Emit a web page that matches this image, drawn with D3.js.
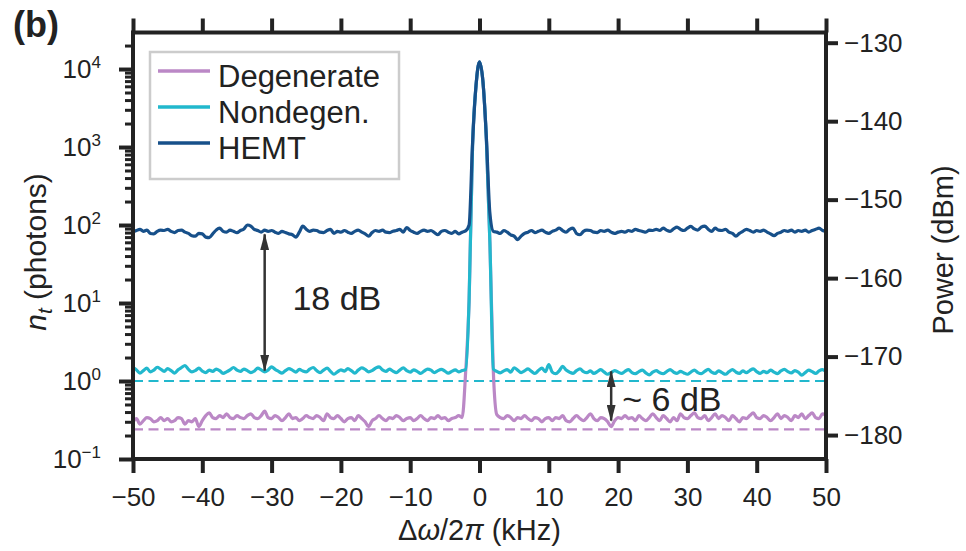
<!DOCTYPE html>
<html lang="en">
<head>
<meta charset="utf-8">
<script src="https://cdn.jsdelivr.net/npm/d3@7"></script>
<style>
    body { margin: 0; background: #fff; }
    svg text { font-family: "Liberation Sans", Arial, sans-serif; fill: #222; }
</style>
</head>
<body>
<script>
    // frequency grid (kHz), 0.5 kHz bins from -50 to 50
    let freqStart = -50;
    let freqStep = 0.5;

    // photon number n_t per bin
    let degenerate = [
        0.30, 0.33, 0.28, 0.31, 0.34, 0.33, 0.30, 0.31, 0.34, 0.31,
        0.33, 0.30, 0.31, 0.34, 0.33, 0.28, 0.31, 0.30, 0.33, 0.26,
        0.31, 0.36, 0.39, 0.34, 0.33, 0.36, 0.34, 0.38, 0.34, 0.33,
        0.36, 0.34, 0.33, 0.36, 0.38, 0.34, 0.33, 0.36, 0.41, 0.34,
        0.33, 0.36, 0.34, 0.31, 0.34, 0.38, 0.33, 0.34, 0.31, 0.33,
        0.36, 0.34, 0.33, 0.36, 0.34, 0.31, 0.38, 0.34, 0.33, 0.36,
        0.33, 0.30, 0.33, 0.34, 0.31, 0.36, 0.33, 0.30, 0.26, 0.31,
        0.33, 0.36, 0.33, 0.31, 0.34, 0.33, 0.36, 0.34, 0.31, 0.33,
        0.34, 0.31, 0.33, 0.36, 0.33, 0.31, 0.34, 0.33, 0.36, 0.33,
        0.34, 0.31, 0.33, 0.34, 0.36, 0.34, 1.3, 10.5, 1050, 6100,
        12300, 6800, 1200, 60, 1.3, 0.37, 0.34, 0.33, 0.36, 0.34,
        0.31, 0.34, 0.33, 0.36, 0.33, 0.31, 0.34, 0.33, 0.30, 0.33,
        0.34, 0.31, 0.34, 0.33, 0.36, 0.31, 0.30, 0.33, 0.36, 0.33,
        0.31, 0.34, 0.38, 0.33, 0.31, 0.34, 0.33, 0.30, 0.26, 0.31,
        0.34, 0.33, 0.36, 0.33, 0.34, 0.31, 0.36, 0.33, 0.31, 0.34,
        0.38, 0.34, 0.31, 0.36, 0.33, 0.30, 0.34, 0.31, 0.38, 0.34,
        0.33, 0.36, 0.39, 0.34, 0.33, 0.36, 0.31, 0.34, 0.38, 0.33,
        0.36, 0.34, 0.31, 0.36, 0.33, 0.30, 0.34, 0.33, 0.36, 0.39,
        0.34, 0.33, 0.36, 0.34, 0.31, 0.34, 0.38, 0.33, 0.36, 0.34,
        0.31, 0.36, 0.34, 0.38, 0.33, 0.36, 0.39, 0.34, 0.33, 0.38,
        0.36
    ];

    let nondegen = [
        1.50, 1.39, 1.26, 1.36, 1.46, 1.31, 1.38, 1.50, 1.42, 1.33,
        1.44, 1.36, 1.26, 1.39, 1.49, 1.58, 1.41, 1.31, 1.36, 1.46,
        1.34, 1.28, 1.38, 1.33, 1.42, 1.36, 1.25, 1.31, 1.39, 1.49,
        1.38, 1.33, 1.42, 1.36, 1.28, 1.34, 1.46, 1.39, 1.31, 1.38,
        1.52, 1.41, 1.33, 1.26, 1.36, 1.44, 1.38, 1.30, 1.41, 1.34,
        1.31, 1.42, 1.49, 1.36, 1.28, 1.38, 1.46, 1.33, 1.22, 1.31,
        1.39, 1.34, 1.44, 1.36, 1.26, 1.38, 1.47, 1.41, 1.31, 1.36,
        1.46, 1.52, 1.39, 1.33, 1.42, 1.34, 1.28, 1.38, 1.47, 1.36,
        1.30, 1.39, 1.33, 1.25, 1.34, 1.42, 1.38, 1.28, 1.36, 1.41,
        1.34, 1.26, 1.33, 1.39, 1.31, 1.36, 1.40, 11, 1050, 6100,
        12300, 6800, 1200, 60, 1.42, 1.33, 1.27, 1.35, 1.40, 1.30,
        1.48, 1.38, 1.28, 1.35, 1.43, 1.33, 1.25, 1.36, 1.46, 1.32,
        1.62, 1.30, 1.24, 1.35, 1.54, 1.38, 1.30, 1.25, 1.36, 1.43,
        1.32, 1.28, 1.35, 1.25, 1.32, 1.40, 1.30, 1.22, 1.28, 1.36,
        1.30, 1.25, 1.33, 1.40, 1.28, 1.24, 1.32, 1.38, 1.27, 1.20,
        1.30, 1.36, 1.28, 1.24, 1.32, 1.40, 1.30, 1.25, 1.33, 1.27,
        1.22, 1.30, 1.38, 1.28, 1.24, 1.33, 1.41, 1.30, 1.25, 1.35,
        1.28, 1.22, 1.32, 1.40, 1.30, 1.25, 1.35, 1.28, 1.36, 1.43,
        1.32, 1.25, 1.33, 1.28, 1.38, 1.30, 1.24, 1.35, 1.41, 1.32,
        1.27, 1.36, 1.30, 1.19, 1.28, 1.38, 1.32, 1.25, 1.35, 1.40,
        1.32
    ];

    let hemt = [
        81, 85, 88, 83, 86, 78, 77, 83, 86, 85,
        88, 83, 80, 85, 86, 81, 78, 73, 72, 78,
        77, 70, 69, 77, 86, 91, 83, 81, 86, 83,
        80, 85, 89, 100, 97, 88, 85, 81, 86, 83,
        85, 81, 78, 83, 80, 77, 75, 70, 81, 97,
        88, 83, 86, 85, 81, 80, 85, 88, 78, 83,
        81, 85, 81, 78, 83, 86, 81, 77, 72, 80,
        85, 83, 86, 81, 80, 83, 85, 88, 81, 93,
        85, 81, 78, 83, 86, 83, 85, 80, 75, 83,
        85, 81, 78, 83, 77, 81, 84, 100, 1130, 6200,
        12400, 6900, 1280, 142, 83, 81, 78, 85, 81, 75,
        72, 65, 72, 78, 81, 85, 80, 83, 86, 81,
        78, 83, 86, 91, 85, 81, 88, 91, 78, 75,
        83, 86, 85, 81, 80, 85, 83, 86, 81, 78,
        81, 83, 81, 85, 83, 88, 85, 83, 81, 86,
        85, 88, 85, 91, 86, 83, 89, 94, 88, 85,
        91, 96, 89, 86, 94, 97, 88, 83, 91, 86,
        85, 88, 81, 78, 72, 78, 83, 88, 85, 81,
        85, 83, 86, 81, 77, 73, 78, 81, 85, 83,
        86, 81, 85, 83, 86, 81, 85, 88, 91, 85,
        83
    ];

    // dashed floor levels (photons): nondegenerate, degenerate
    let floorLevels = [1.0, 0.24];

    let seriesNames = ["Degenerate", "Nondegen.", "HEMT"];
    let seriesColors = ["#bb88c6", "#22b8cd", "#17508a"];

    let xTicks = [-50, -40, -30, -20, -10, 0, 10, 20, 30, 40, 50];
    let nTickExps = [-1, 0, 1, 2, 3, 4];
    let powerTicks = [-130, -140, -150, -160, -170, -180];

    // annotation arrows: x (kHz), from / to (photons)
    let arrow18 = { x: -31, from: 76, to: 1.36, label: "18 dB" };
    let arrow6 = { x: 19, from: 1.33, to: 0.31, label: "~ 6 dB" };

    let w = 966;
    let h = 551;
    let pLeft = 133, pRight = 826, pTop = 32.5, pBottom = 459;

    let svg = d3.select("body").append("svg")
        .attr("width", w)
        .attr("height", h);

    let x = d3.scaleLinear().domain([-50, 50]).range([pLeft, pRight]);
    let y = d3.scaleLog().domain([0.1, 29400]).range([pBottom, pTop]);
    let yPow = d3.scaleLinear().domain([-183.05, -128.7]).range([pBottom, pTop]);

    let freq = d3.range(hemt.length).map(function(i) { return freqStart + i * freqStep; });

    let defs = svg.append("defs");
    defs.append("clipPath").attr("id", "plotclip")
        .append("rect")
        .attr("x", pLeft).attr("y", pTop)
        .attr("width", pRight - pLeft).attr("height", pBottom - pTop);

    let plot = svg.append("g").attr("clip-path", "url(#plotclip)");

    // dashed floors
    plot.selectAll("line.floor")
        .data(floorLevels)
        .join("line")
        .attr("class", "floor")
        .attr("x1", x(-50)).attr("x2", x(50))
        .attr("y1", function(d) { return y(d); })
        .attr("y2", function(d) { return y(d); })
        .attr("stroke", function(d, i) { return i === 0 ? seriesColors[1] : seriesColors[0]; })
        .attr("stroke-width", 2.2)
        .attr("stroke-dasharray", "10,5.5");

    let line = d3.line()
        .x(function(d, i) { return x(freq[i]); })
        .y(function(d) { return y(d); })
        .curve(d3.curveMonotoneX);

    let allSeries = [degenerate, nondegen, hemt];
    plot.selectAll("path.trace")
        .data(allSeries)
        .join("path")
        .attr("class", "trace")
        .attr("d", function(d) { return line(d); })
        .attr("fill", "none")
        .attr("stroke", function(d, i) { return seriesColors[i]; })
        .attr("stroke-width", 3.2)
        .attr("stroke-linejoin", "round");

    // axes
    let axisColor = "#222";

    let gBottom = svg.append("g").attr("transform", "translate(0," + pBottom + ")")
        .call(d3.axisBottom(x).tickValues(xTicks).tickSize(14).tickPadding(15)
            .tickFormat(d3.format("d")));
    let gTop = svg.append("g").attr("transform", "translate(0," + pTop + ")")
        .call(d3.axisTop(x).tickValues(xTicks).tickSize(14).tickFormat(""));

    let nTicks = nTickExps.map(function(e) { return Math.pow(10, e); });
    let minorTicks = [];
    for (let e = -1; e <= 4; e++) {
        for (let m = 2; m <= 9; m++) {
            let v = m * Math.pow(10, e);
            if (v < 29400) minorTicks.push(v);
        }
    }
    let gLeftMinor = svg.append("g").attr("transform", "translate(" + pLeft + ",0)")
        .call(d3.axisLeft(y).tickValues(minorTicks).tickSize(8).tickFormat(""));
    let gLeft = svg.append("g").attr("transform", "translate(" + pLeft + ",0)")
        .call(d3.axisLeft(y).tickValues(nTicks).tickSize(14).tickPadding(18));

    gLeft.selectAll(".tick text").each(function(d, i) {
        let t = d3.select(this);
        t.text(null);
        t.append("tspan").text("10");
        t.append("tspan")
            .attr("dy", -10)
            .attr("font-size", 17)
            .text(d3.format("d")(nTickExps[i]));
    });

    let gRight = svg.append("g").attr("transform", "translate(" + pRight + ",0)")
        .call(d3.axisRight(yPow).tickValues(powerTicks).tickSize(12).tickPadding(6)
            .tickFormat(d3.format("d")));

    [gBottom, gTop, gLeftMinor, gLeft, gRight].forEach(function(g) {
        g.select(".domain").remove();
        g.selectAll(".tick line").attr("stroke", axisColor).attr("stroke-width", 4);
        g.selectAll(".tick text").attr("font-size", 26).attr("fill", axisColor)
            .style("font-family", "'Liberation Sans', Arial, sans-serif");
    });
    gLeftMinor.selectAll(".tick line").attr("stroke-width", 3);

    svg.append("rect")
        .attr("x", pLeft).attr("y", pTop)
        .attr("width", pRight - pLeft).attr("height", pBottom - pTop)
        .attr("fill", "none")
        .attr("stroke", axisColor)
        .attr("stroke-width", 4);

    // arrows
    defs.append("marker")
        .attr("id", "head")
        .attr("viewBox", "0 0 17 9")
        .attr("markerUnits", "userSpaceOnUse")
        .attr("markerWidth", 17).attr("markerHeight", 9)
        .attr("refX", 16).attr("refY", 4.5)
        .attr("orient", "auto-start-reverse")
        .append("path")
        .attr("d", "M0,0 L17,4.5 L0,9 Z")
        .attr("fill", "#333");

    [arrow18, arrow6].forEach(function(a) {
        svg.append("line")
            .attr("x1", x(a.x)).attr("x2", x(a.x))
            .attr("y1", y(a.from)).attr("y2", y(a.to))
            .attr("stroke", "#333")
            .attr("stroke-width", 2.5)
            .attr("marker-start", "url(#head)")
            .attr("marker-end", "url(#head)");
    });

    svg.append("text")
        .attr("x", x(-27)).attr("y", y(8.1))
        .attr("font-size", 34)
        .text(arrow18.label);
    svg.append("text")
        .attr("x", x(20.6)).attr("y", y(0.41))
        .attr("font-size", 34)
        .text(arrow6.label);

    // legend
    let legend = svg.append("g");
    legend.append("rect")
        .attr("x", 150).attr("y", 52)
        .attr("width", 249).attr("height", 127)
        .attr("fill", "#fff")
        .attr("stroke", "#cccccc")
        .attr("stroke-width", 2.5);
    seriesNames.forEach(function(name, i) {
        let ly = 71 + i * 36;
        legend.append("line")
            .attr("x1", 158).attr("x2", 210)
            .attr("y1", ly).attr("y2", ly)
            .attr("stroke", seriesColors[i])
            .attr("stroke-width", 3.5);
        legend.append("text")
            .attr("x", 218).attr("y", ly + 16)
            .attr("font-size", 31)
            .text(name);
    });

    // axis titles
    let xl = svg.append("text")
        .attr("x", (pLeft + pRight) / 2).attr("y", 540)
        .attr("text-anchor", "middle")
        .attr("font-size", 29);
    xl.append("tspan").text("\u0394");
    xl.append("tspan").attr("font-style", "italic").text("\u03c9");
    xl.append("tspan").text("/2");
    xl.append("tspan").attr("font-style", "italic").text("\u03c0");
    xl.append("tspan").text(" (kHz)");

    let yl = svg.append("text")
        .attr("transform", "translate(46,252) rotate(-90)")
        .attr("text-anchor", "middle")
        .attr("font-size", 30);
    yl.append("tspan").attr("font-style", "italic").text("n");
    yl.append("tspan").attr("font-style", "italic").attr("font-size", 21).attr("dy", 6).text("t");
    yl.append("tspan").attr("dy", -6).text(" (photons)");

    svg.append("text")
        .attr("transform", "translate(953,250) rotate(-90)")
        .attr("text-anchor", "middle")
        .attr("font-size", 29)
        .text("Power (dBm)");

    svg.append("text")
        .attr("x", 13).attr("y", 37)
        .attr("font-size", 36)
        .attr("font-weight", "bold")
        .text("(b)");
</script>
</body>
</html>
